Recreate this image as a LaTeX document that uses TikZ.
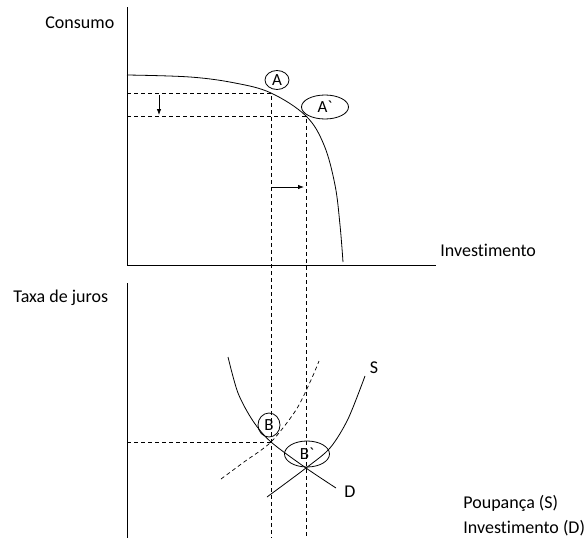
\documentclass[tikz,border=0pt]{standalone}
\usepackage{fontspec}
\setmainfont{Carlito}[Ligatures=NoCommon]
\usetikzlibrary{shapes.geometric,arrows.meta}

\begin{document}
\begin{tikzpicture}[x=1pt, y=-1pt, >={Latex[length=6pt,width=4.5pt]}, line width=0.8pt,
  lbl/.style={font=\fontsize{18}{22}\selectfont, anchor=base west, inner sep=0pt},
  crv/.style={font=\fontsize{18}{22}\selectfont, inner sep=0pt},
  pt/.style={draw, ellipse, inner sep=0pt, line width=0.8pt, font=\fontsize{17}{20}\selectfont},
  guide/.style={dash pattern=on 4pt off 3pt, line width=0.7pt}]
  \useasboundingbox (0,0) rectangle (587,538);
  % axes
  \coordinate (o1) at (127,265);
  \coordinate (y1) at (127,7);
  \coordinate (x1) at (436,265);
  \coordinate (y2) at (127,283);
  \coordinate (bot) at (127,538);
  \draw (y1) -- (o1) -- (x1);
  \draw (y2) -- (bot);
  \node[lbl] (consumo) at (45,28) {Consumo};
  \node[lbl] (invest) at (440,256) {Investimento};
  \node[lbl] (taxa) at (13,302) {Taxa de juros};
  \node[lbl] (poup) at (463,508) {Poupança (S)};
  \node[lbl] (invd) at (463,533) {Investimento (D)};
  % frontier of possibilities
  \coordinate (pA) at (271,93);
  \coordinate (pA2) at (306,116);
  \draw plot[smooth, tension=0.6] coordinates {(127,75) (190,77) (235,83) (pA) (pA2) (324,145) (335,185) (340,225) (343,262)};
  \node[pt, minimum width=24pt, minimum height=19pt] (nA) at (277,80) {A};
  \node[pt, minimum width=47pt, minimum height=24pt] (nA2) at (325,107) {A\textasciigrave};
  % projections
  \draw[guide] (pA -| o1) -- (pA) -- (pA |- bot);
  \draw[guide] (pA2 -| o1) -- (pA2) -- (pA2 |- bot);
  \coordinate (dn1) at (159,95);
  \coordinate (dn2) at (159,115);
  \draw[->] (dn1) -- (dn2);
  \coordinate (rt1) at (272,187);
  \coordinate (rt2) at (304,187);
  \draw[->] (rt1) -- (rt2);
  % savings and investment
  \coordinate (pB) at (271,442);
  \coordinate (pB2) at (306,468);
  \draw plot[smooth] coordinates {(228,357) (238,393) (253,421) (pB) (pB2) (336,488)};
  \draw plot[smooth] coordinates {(267,497) (pB2) (330,448) (348,419) (365,376)};
  \draw[guide] plot[smooth] coordinates {(221,479) (244,462) (pB) (296,410) (311,380) (319,361)};
  \draw[guide] (pB -| o1) -- (pB);
  \node[crv] (lS) at (374,368) {S};
  \node[crv] (lD) at (350,492) {D};
  \node[pt, minimum width=22pt, minimum height=24pt] (nB) at (269,425) {B};
  \node[pt, minimum width=45pt, minimum height=26pt] (nB2) at (307,454) {B\textasciigrave};
\end{tikzpicture}
\end{document}
